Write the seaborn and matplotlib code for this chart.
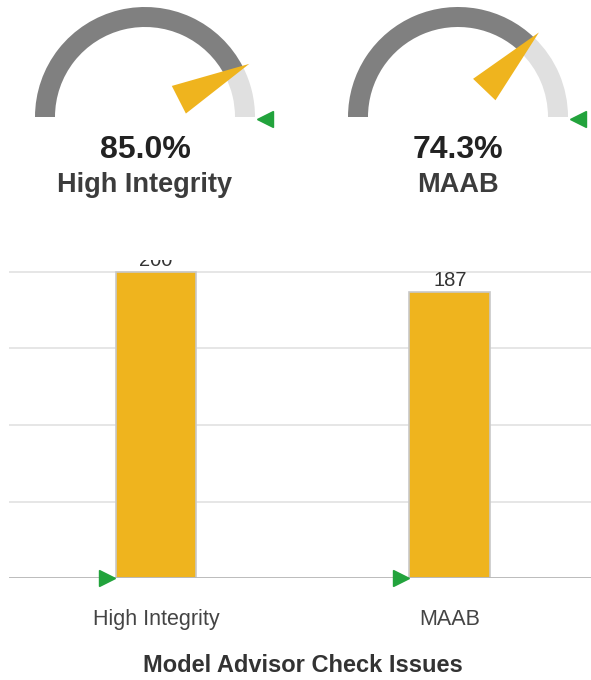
import numpy as np
import pandas as pd
import matplotlib
matplotlib.use("Agg")
import matplotlib.pyplot as plt
from matplotlib.patches import Wedge, Polygon
import seaborn as sns

# Compliance gauges
gauge_names = ["High Integrity", "MAAB"]
gauge_pct = [85.0, 74.3]
gauge_target = [100.0, 100.0]

# Model Advisor check issues
check_names = ["High Integrity", "MAAB"]
check_issues = [200, 187]
issue_target = [0, 0]

YELLOW = "#efb41e"
DARK = "#808080"
LIGHT = "#e0e0e0"
GREEN = "#22a33c"

sns.set_theme(style="white")
plt.rcParams["font.family"] = ["Liberation Sans", "DejaVu Sans"]

W, H = 591, 680
fig = plt.figure(figsize=(W / 100, H / 100), dpi=100)
fig.patch.set_facecolor("white")


def px_axes(left, top, width, height):
    """Axes placed by pixel box (origin at the top-left of the figure)."""
    return fig.add_axes([left / W, 1 - (top + height) / H, width / W, height / H])


R_OUT, R_IN = 110, 90


def pct_angle(p):
    """0 % sits at the left end of the dial, 100 % at the right end."""
    return 180.0 * (1 - p / 100.0)


def draw_gauge(ax, value, target, name):
    a = pct_angle(value)
    ax.add_patch(Wedge((0, 0), R_OUT, a, 180, width=R_OUT - R_IN, color=DARK, lw=0))
    ax.add_patch(Wedge((0, 0), R_OUT, 0, a, width=R_OUT - R_IN, color=LIGHT, lw=0))

    t = np.deg2rad(a)
    d = np.array([np.cos(t), np.sin(t)])
    n = np.array([-np.sin(t), np.cos(t)])
    base, tip = 38 * d, 117 * d
    ax.add_patch(Polygon([base + 15.5 * n, tip, base - 15.5 * n], closed=True,
                         color=YELLOW, lw=0, zorder=3))

    ta = np.deg2rad(pct_angle(target))
    ax.plot(120 * np.cos(ta), 120 * np.sin(ta) - 2, marker="<", ms=12,
            color=GREEN, ls="none", clip_on=False, zorder=4)

    ax.text(0, -41, f"{value:.1f}%", ha="center", va="baseline",
            fontsize=23, fontweight="bold", color="#222222")
    ax.text(0, -75, name, ha="center", va="baseline",
            fontsize=19.5, fontweight="bold", color="#3c3c3c")

    ax.set_xlim(-145, 145)
    ax.set_ylim(-93, 117)
    ax.set_aspect("equal")
    ax.axis("off")


for cx, value, target, name in zip([145, 458], gauge_pct, gauge_target, gauge_names):
    gax = px_axes(cx - 145, 0, 290, 210)
    draw_gauge(gax, value, target, name)

# Bar chart of check issues
axb = px_axes(9, 260, 582, 318.3)
df = pd.DataFrame({"check": check_names, "issues": check_issues})
bar_w = 0.275
sns.barplot(data=df, x="check", y="issues", color=YELLOW, saturation=1,
            width=bar_w, edgecolor="#c8c8c8", linewidth=1.2, ax=axb, zorder=2)

axb.set_xlim(-0.5, 1.48)
axb.set_ylim(0, 207.6)
axb.set_yticks([0, 50, 100, 150, 200])
axb.set_yticklabels([])
axb.set_ylabel("")
axb.yaxis.grid(True, color="#e4e4e4", lw=1.3)
axb.set_axisbelow(True)
for s in axb.spines.values():
    s.set_visible(False)
axb.axhline(0, color="#b8b8b8", lw=2, zorder=3)
axb.tick_params(axis="both", length=0)
axb.tick_params(axis="x", pad=22, labelsize=15.5, labelcolor="#444444")

for i, v in enumerate(check_issues):
    axb.annotate(str(v), (i, v), xytext=(0, 1.5), textcoords="offset points",
                 ha="center", va="bottom", fontsize=14.5, color="#333333",
                 clip_on=True)

for i, tv in enumerate(issue_target):
    axb.plot(i - bar_w / 2 - 0.03, tv, marker=">", ms=12, color=GREEN,
             ls="none", clip_on=False, zorder=4)

axb.set_xlabel("Model Advisor Check Issues", fontsize=17, fontweight="bold",
               color="#333333")
axb.xaxis.set_label_coords(0.505, -0.2755)
axb.xaxis.label.set_va("center")

fig.savefig("out.png", dpi=100, facecolor="white")
